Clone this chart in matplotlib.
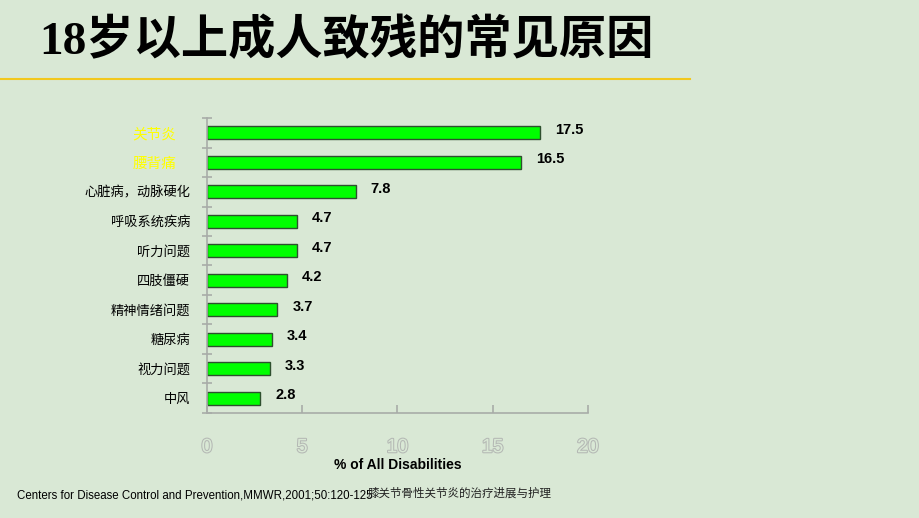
import matplotlib
matplotlib.use('Agg')
import matplotlib.pyplot as plt
import matplotlib.patheffects as pe
import matplotlib.transforms as mtransforms
import numpy as np

categories = ['关节炎', '腰背痛', '心脏病，动脉硬化', '呼吸系统疾病', '听力问题',
              '四肢僵硬', '精神情绪问题', '糖尿病', '视力问题', '中风']
values = [17.5, 16.5, 7.8, 4.7, 4.7, 4.2, 3.7, 3.4, 3.3, 2.8]
value_labels = ['17.5', '16.5', '7.8', '4.7', '4.7', '4.2', '3.7', '3.4', '3.3', '2.8']
xticks = [0, 5, 10, 15, 20]

bg = '#d9e8d5'
cjk = ['Noto Sans CJK SC', 'DejaVu Sans']

fig = plt.figure(figsize=(9.2, 5.18), dpi=100, facecolor=bg)

# 标题和分隔线
fig.text(0.043, 0.92, '18岁以上成人致残的常见原因', fontsize=34, fontweight='bold',
         family=['Liberation Serif', 'Noto Sans CJK SC'], va='center', ha='left')
fig.add_artist(plt.Line2D([0, 0.75], [0.847, 0.847], color='#f2c81e', lw=1.5))

ax = fig.add_axes([0.225, 0.203, 0.414, 0.569])
ax.set_facecolor(bg)
ax.patch.set_alpha(0)

y = np.arange(len(categories))
ax.barh(y, values, height=0.44, color='#00ff00', edgecolor='#2f4f2f', linewidth=1)
for yi, v, lab in zip(y, values, value_labels):
    ax.text(v + 0.8, yi - 0.1, lab, fontsize=10.5, fontweight='bold',
            family='Liberation Sans', va='center', ha='left')

ax.set_xlim(0, 20)
ax.set_ylim(9.5, -0.5)

for s in ['top', 'right']:
    ax.spines[s].set_visible(False)
for s in ['left', 'bottom']:
    ax.spines[s].set_color('#a8aca8')
    ax.spines[s].set_linewidth(1.2)

ax.set_yticks(y)
ax.set_yticklabels(categories, family=cjk, fontsize=9.5)
ax.tick_params(axis='y', length=0, pad=12)
shift = mtransforms.ScaledTranslation(-14 / 100, 0, fig.dpi_scale_trans)
for i, t in enumerate(ax.get_yticklabels()):
    if i < 2:
        t.set_color('#ffff00')
        t.set_fontsize(10.5)
        t.set_transform(t.get_transform() + shift)
ax.set_yticks(np.arange(-0.5, 10, 1), minor=True)
ax.tick_params(axis='y', which='minor', direction='inout', length=7,
               color='#a8aca8', width=1.2)

ax.set_xticks(xticks)
ax.set_xticklabels([str(t) for t in xticks], family='Liberation Sans', fontsize=14,
                   color=bg)
ax.tick_params(axis='x', direction='in', length=6, color='#a8aca8', width=1.2, pad=19)
for t in ax.get_xticklabels():
    t.set_path_effects([pe.withStroke(linewidth=1.5, foreground='#b4b8b4')])

ax.set_xlabel('% of All Disabilities', fontsize=10, fontweight='bold',
              family='Liberation Sans', labelpad=1)

fig.text(0.018, 0.043, 'Centers for Disease Control and Prevention,MMWR,2001;50:120-125',
         fontsize=8.3, family='Liberation Sans', va='center')
fig.text(0.4, 0.047, '膝关节骨性关节炎的治疗进展与护理', fontsize=8.3, family=cjk,
         va='center', color='#222222')

fig.savefig('out.png', dpi=100, facecolor=bg)
